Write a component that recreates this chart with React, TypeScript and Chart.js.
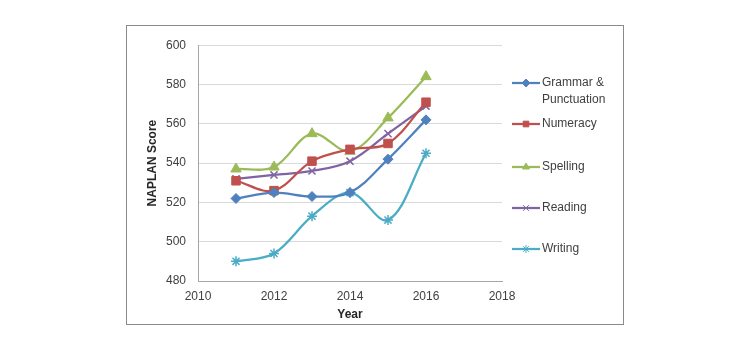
import React, { useEffect, useRef } from "react";
import { Chart, registerables } from "chart.js";
import { drawPoint } from "chart.js/helpers";

Chart.register(...registerables);

const years = [2011, 2012, 2013, 2014, 2015, 2016];
const grammar = [522, 525, 523, 525, 542, 562];
const numeracy = [531, 526, 541, 547, 550, 571];
const spelling = [537, 538, 555, 546, 563, 584];
const reading = [532, 534, 536, 541, 555, 569];
const writing = [490, 494, 513, 525, 511, 545];

const seriesNames = [["Grammar &", "Punctuation"], ["Numeracy"], ["Spelling"], ["Reading"], ["Writing"]];
const seriesValues = [grammar, numeracy, spelling, reading, writing];
const seriesColors = ["#4F81BD", "#C0504D", "#9BBB59", "#8064A2", "#4BACC6"];
const seriesMarkers = ["rectRot", "rect", "triangle", "crossRot", "star"];
const markerSizes = [5, 6, 6, 5, 5];

const xTicks = { min: 2010, max: 2018, step: 2 };
const yTicks = { min: 480, max: 600, step: 20 };

const FONT = "'Liberation Sans', Arial, sans-serif";

const legendPlugin = {
  id: "customLegend",
  afterDraw(chart: any) {
    const ctx = chart.ctx;
    const area = chart.chartArea;
    const x0 = area.right + 10;
    const lineLen = 28;
    const tops = [57, 98, 141, 182, 223];
    ctx.save();
    ctx.font = `12px ${FONT}`;
    ctx.textBaseline = "middle";
    chart.data.datasets.forEach((ds: any, i: number) => {
      const y = tops[i];
      ctx.strokeStyle = ds.borderColor;
      ctx.lineWidth = 2.25;
      ctx.beginPath();
      ctx.moveTo(x0, y);
      ctx.lineTo(x0 + lineLen, y);
      ctx.stroke();
      ctx.fillStyle = ds.borderColor;
      ctx.lineWidth = 1;
      drawPoint(ctx, { pointStyle: ds.pointStyle, radius: 4, rotation: 0, borderWidth: 1 }, x0 + lineLen / 2, y);
      ctx.fillStyle = "#404040";
      const lines = seriesNames[i];
      lines.forEach((t, j) => ctx.fillText(t, x0 + lineLen + 2, y + j * 17));
    });
    ctx.restore();
  },
};

export default function App() {
  const ref = useRef<HTMLCanvasElement>(null);
  useEffect(() => {
    if (!ref.current) return;
    const chart = new Chart(ref.current, {
      type: "line",
      data: {
        datasets: seriesValues.map((vals, i) => ({
          label: seriesNames[i].join(" "),
          data: years.map((y, k) => ({ x: y, y: vals[k] })),
          borderColor: seriesColors[i],
          backgroundColor: seriesColors[i],
          pointBackgroundColor: seriesColors[i],
          pointBorderColor: seriesColors[i],
          pointStyle: seriesMarkers[i] as any,
          pointRadius: markerSizes[i],
          pointBorderWidth: seriesMarkers[i] === "crossRot" || seriesMarkers[i] === "star" ? 1.5 : 1,
          borderWidth: 2.25,
          tension: 0.35,
          fill: false,
        })),
      },
      options: {
        animation: false,
        responsive: true,
        maintainAspectRatio: false,
        layout: { padding: { top: 15, right: 121, left: 0, bottom: 0 } },
        plugins: { legend: { display: false }, tooltip: { enabled: false } },
        scales: {
          x: {
            type: "linear",
            min: xTicks.min,
            max: xTicks.max,
            afterFit: (s: any) => { s.height = 43; },
            ticks: {
              stepSize: xTicks.step,
              callback: (v: any) => String(v),
              color: "#404040",
              font: { family: FONT, size: 12 },
              padding: 8,
            },
            grid: { display: false, drawTicks: false },
            border: { display: true, color: "#a6a6a6", width: 1 },
            title: {
              display: true,
              text: "Year",
              color: "#262626",
              font: { family: FONT, size: 12, weight: "bold" },
              padding: { top: 0, bottom: 2 },
            },
          },
          y: {
            min: yTicks.min,
            max: yTicks.max,
            afterFit: (s: any) => { s.width = 71; },
            ticks: {
              stepSize: yTicks.step,
              color: "#404040",
              font: { family: FONT, size: 12 },
              padding: 12,
            },
            grid: { color: "#d9d9d9", drawTicks: false, lineWidth: 1 },
            border: { display: true, color: "#a6a6a6", width: 1 },
            title: {
              display: true,
              text: "NAPLAN Score",
              color: "#262626",
              font: { family: FONT, size: 12, weight: "bold" },
              padding: { top: 18, bottom: 0 },
            },
          },
        },
      },
      plugins: [legendPlugin],
    });
    return () => chart.destroy();
  }, []);
  return (
    <div
      style={{
        margin: "17px 0 0 118px",
        width: 498,
        height: 300,
        boxSizing: "border-box",
        border: "1px solid #8a8a8a",
        position: "relative",
        background: "#fff",
      }}
    >
      <div style={{ position: "relative", width: 496, height: 298 }}>
        <canvas ref={ref} />
      </div>
    </div>
  );
}
